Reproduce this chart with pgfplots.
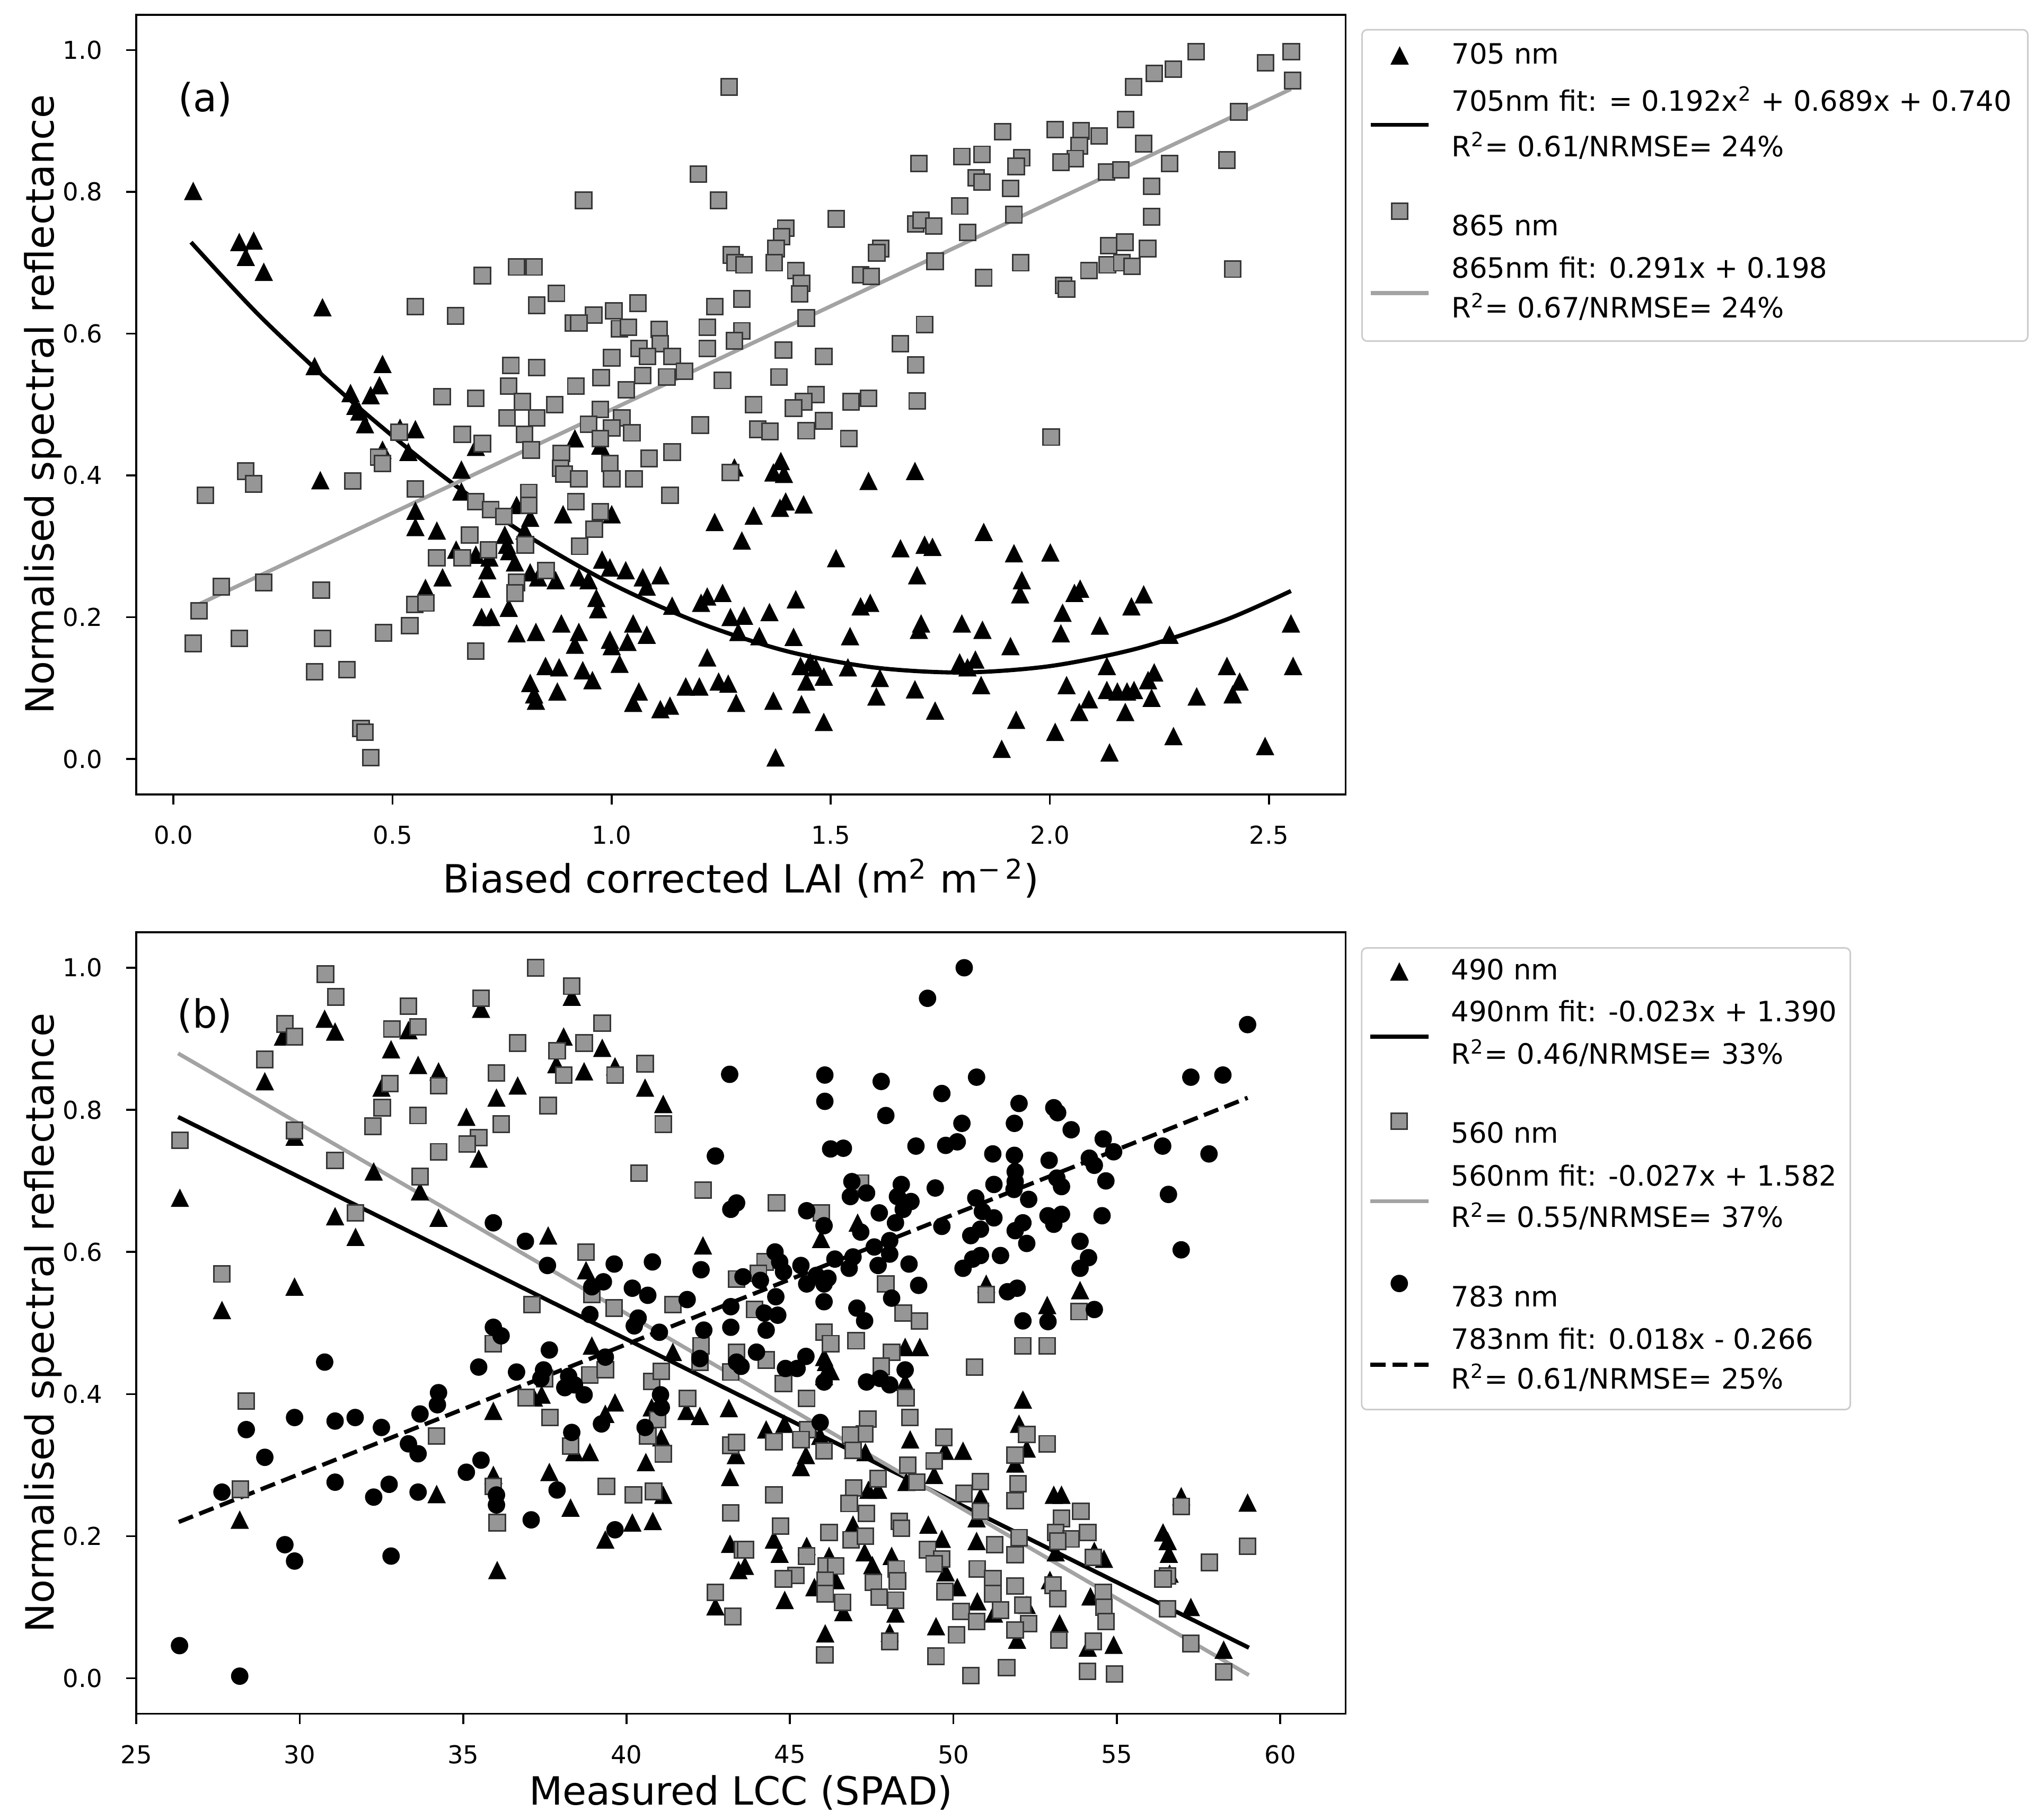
\documentclass[border=0pt]{standalone}
\usepackage{fontspec}
\setmainfont{DejaVu Sans}
\usepackage{pgfplots}
\usepackage{pgfplotstable}
\pgfplotsset{compat=1.18}
\renewcommand{\arraystretch}{0}
\definecolor{sqfill}{RGB}{150,150,150}
\definecolor{sqedge}{RGB}{55,55,55}
\definecolor{fitgray}{RGB}{163,163,163}
\definecolor{legframe}{RGB}{204,204,204}
\pgfdeclareplotmark{mtri}{%
 \pgfpathmoveto{\pgfqpoint{0pt}{\pgfplotmarksize}}%
 \pgfpathlineto{\pgfqpoint{-\pgfplotmarksize}{-\pgfplotmarksize}}%
 \pgfpathlineto{\pgfqpoint{\pgfplotmarksize}{-\pgfplotmarksize}}%
 \pgfpathclose\pgfusepathqfillstroke}

\pgfplotstableread{
x y
0.045 0.801
0.150 0.729
0.183 0.731
0.165 0.708
0.206 0.687
0.340 0.637
0.322 0.554
0.477 0.557
0.470 0.527
0.404 0.516
0.450 0.513
0.415 0.498
0.424 0.490
0.437 0.472
0.552 0.465
0.517 0.467
0.536 0.433
0.477 0.436
0.335 0.393
0.657 0.408
0.657 0.377
0.690 0.440
0.552 0.350
0.552 0.327
0.601 0.322
0.783 0.358
0.814 0.340
0.756 0.316
0.801 0.322
0.889 0.345
1.000 0.345
0.916 0.452
0.974 0.442
1.235 0.334
1.280 0.411
1.297 0.308
0.645 0.295
0.690 0.288
0.721 0.284
0.761 0.302
0.766 0.293
0.779 0.277
0.716 0.266
0.614 0.256
0.575 0.241
0.814 0.263
0.832 0.256
0.872 0.252
0.925 0.256
0.947 0.252
0.978 0.281
0.996 0.270
1.032 0.266
1.071 0.256
1.080 0.243
1.111 0.259
0.965 0.227
0.969 0.211
0.703 0.240
0.765 0.213
0.703 0.200
0.725 0.200
0.783 0.177
0.827 0.179
0.885 0.191
0.925 0.179
0.916 0.161
0.996 0.168
1.000 0.159
1.036 0.165
1.049 0.191
1.080 0.175
1.138 0.216
1.204 0.220
1.218 0.229
1.253 0.234
1.271 0.200
1.302 0.202
1.289 0.179
1.218 0.143
1.018 0.134
0.849 0.131
0.880 0.129
0.934 0.125
0.956 0.111
0.814 0.107
0.823 0.091
0.827 0.082
0.876 0.095
1.062 0.095
1.049 0.079
1.111 0.070
1.133 0.075
1.169 0.102
1.200 0.102
1.244 0.109
1.266 0.106
1.284 0.079
1.386 0.420
1.369 0.404
1.393 0.402
1.692 0.406
1.586 0.392
1.397 0.363
1.384 0.354
1.438 0.359
1.324 0.343
1.849 0.320
1.659 0.297
1.714 0.302
1.732 0.299
1.512 0.283
1.918 0.290
2.001 0.291
1.697 0.259
1.936 0.252
1.932 0.232
1.420 0.225
1.568 0.215
1.590 0.220
2.056 0.234
2.069 0.240
2.214 0.232
2.186 0.215
1.360 0.207
2.029 0.206
1.706 0.191
1.701 0.182
1.799 0.191
1.846 0.182
2.114 0.188
2.025 0.177
1.337 0.173
1.415 0.172
1.544 0.173
1.910 0.159
2.273 0.175
2.550 0.191
1.431 0.131
1.453 0.136
1.466 0.129
1.539 0.129
1.484 0.116
1.444 0.109
1.612 0.114
1.794 0.136
1.830 0.140
1.812 0.129
2.130 0.131
2.404 0.131
2.555 0.131
2.238 0.122
2.224 0.111
2.433 0.109
1.843 0.104
1.692 0.098
2.038 0.104
2.130 0.097
2.154 0.095
2.176 0.095
2.192 0.097
2.232 0.086
2.335 0.088
2.417 0.091
2.089 0.084
1.369 0.082
1.433 0.077
1.604 0.088
2.067 0.066
2.172 0.066
1.738 0.068
1.484 0.052
1.923 0.055
2.012 0.038
2.282 0.032
1.890 0.014
2.136 0.009
2.491 0.018
1.374 0.002
}\tA

\pgfplotstableread{
x y
1.268 0.948
1.198 0.825
1.244 0.788
0.936 0.788
1.273 0.711
1.281 0.700
1.302 0.697
0.783 0.694
0.823 0.694
0.705 0.682
0.874 0.657
0.829 0.640
0.552 0.638
0.644 0.625
1.060 0.643
1.235 0.638
1.297 0.649
0.959 0.626
1.005 0.632
0.912 0.615
0.925 0.615
1.018 0.607
1.038 0.609
1.108 0.606
1.218 0.609
1.297 0.604
1.062 0.579
1.111 0.586
1.082 0.568
1.138 0.568
1.218 0.579
1.280 0.590
1.000 0.566
0.770 0.555
0.829 0.552
1.071 0.541
1.126 0.539
1.166 0.547
0.976 0.538
1.253 0.534
0.765 0.526
0.918 0.526
1.033 0.521
0.613 0.511
0.690 0.509
0.796 0.504
0.870 0.500
0.974 0.493
0.761 0.481
0.829 0.481
1.023 0.481
0.947 0.472
1.000 0.467
1.046 0.460
1.202 0.471
0.515 0.461
0.659 0.458
0.705 0.445
0.801 0.458
0.974 0.452
0.816 0.436
0.885 0.431
1.085 0.424
1.138 0.433
0.468 0.426
0.477 0.417
0.996 0.417
0.883 0.410
0.891 0.402
0.925 0.395
1.000 0.395
1.051 0.395
1.271 0.404
0.165 0.406
0.183 0.388
0.073 0.372
0.409 0.392
0.552 0.381
0.811 0.376
1.133 0.372
0.690 0.363
0.918 0.363
0.724 0.352
0.754 0.342
0.811 0.358
0.974 0.349
0.960 0.324
0.676 0.316
0.719 0.295
0.803 0.302
0.927 0.300
0.601 0.284
0.659 0.284
0.850 0.266
0.783 0.249
0.779 0.234
0.109 0.243
0.206 0.249
0.337 0.238
0.058 0.209
0.551 0.218
0.576 0.220
0.539 0.188
0.479 0.178
0.045 0.163
0.150 0.170
0.340 0.170
0.690 0.152
0.322 0.123
0.396 0.126
0.428 0.043
0.437 0.038
0.450 0.002
2.334 0.998
2.551 0.998
2.492 0.982
2.282 0.973
2.238 0.967
2.191 0.948
2.554 0.957
2.431 0.913
2.173 0.902
1.892 0.885
2.012 0.888
2.071 0.886
2.112 0.879
2.214 0.868
2.067 0.865
2.058 0.847
2.025 0.842
1.799 0.850
1.845 0.853
1.936 0.848
1.923 0.836
1.701 0.840
2.273 0.840
2.404 0.845
2.129 0.828
2.162 0.831
1.832 0.820
1.845 0.814
2.232 0.808
1.910 0.805
1.794 0.780
1.918 0.768
1.512 0.762
1.397 0.749
1.388 0.737
1.375 0.720
1.694 0.755
1.706 0.760
1.735 0.752
1.812 0.743
2.232 0.765
1.614 0.720
1.605 0.714
1.371 0.700
1.420 0.689
1.433 0.671
1.429 0.656
1.738 0.702
1.933 0.700
1.568 0.683
1.592 0.681
1.849 0.679
2.134 0.724
2.171 0.729
2.223 0.720
2.131 0.697
2.164 0.700
2.187 0.695
2.089 0.689
2.031 0.668
2.038 0.663
2.417 0.691
1.444 0.622
1.714 0.613
1.659 0.586
1.392 0.577
1.484 0.568
1.694 0.556
1.382 0.539
1.466 0.514
1.438 0.504
1.415 0.495
1.324 0.500
1.546 0.504
1.586 0.509
1.697 0.505
1.333 0.465
1.361 0.462
1.444 0.463
1.484 0.477
1.541 0.452
2.003 0.454
}\sA

\pgfplotstableread{
x y
30.764 0.928
31.083 0.910
29.488 0.903
33.327 0.912
35.547 0.942
38.323 0.959
32.795 0.885
38.075 0.903
39.256 0.887
33.622 0.863
34.248 0.854
37.851 0.864
38.701 0.854
39.646 0.861
28.933 0.840
32.500 0.831
36.669 0.834
36.020 0.817
40.567 0.831
41.122 0.808
35.099 0.790
29.843 0.762
35.476 0.731
32.264 0.713
33.681 0.685
26.335 0.676
31.083 0.650
34.248 0.648
31.709 0.621
37.602 0.623
42.338 0.609
38.760 0.574
29.843 0.551
27.622 0.518
38.937 0.468
41.417 0.459
37.402 0.399
37.165 0.395
35.925 0.376
39.646 0.388
39.350 0.372
40.768 0.381
41.063 0.339
41.831 0.376
42.244 0.369
43.130 0.380
38.878 0.318
38.406 0.318
40.591 0.304
43.343 0.314
37.638 0.290
35.925 0.286
34.189 0.259
38.287 0.240
41.122 0.258
43.165 0.283
28.165 0.223
40.177 0.219
40.803 0.221
39.350 0.195
43.165 0.189
43.425 0.152
36.043 0.152
42.717 0.101
47.070 0.641
45.948 0.618
53.873 0.546
52.869 0.525
51.003 0.555
48.523 0.466
48.972 0.466
46.046 0.452
46.101 0.445
46.243 0.432
46.042 0.425
48.523 0.417
52.125 0.392
52.007 0.358
52.243 0.323
51.889 0.302
44.826 0.358
44.271 0.350
45.924 0.341
45.487 0.314
45.333 0.297
46.928 0.321
47.306 0.318
48.676 0.336
49.739 0.320
50.294 0.320
49.409 0.286
48.558 0.276
47.400 0.265
47.696 0.265
50.826 0.255
53.070 0.258
53.306 0.258
50.708 0.225
46.928 0.216
49.232 0.216
49.645 0.196
50.708 0.193
44.507 0.195
44.684 0.175
45.511 0.186
46.196 0.172
47.283 0.177
48.109 0.172
47.519 0.159
49.763 0.149
53.129 0.177
54.310 0.179
54.605 0.168
43.621 0.158
46.397 0.138
45.747 0.128
50.117 0.128
52.952 0.138
44.838 0.110
50.731 0.108
52.243 0.103
54.192 0.115
46.633 0.093
48.227 0.091
51.239 0.091
49.468 0.073
51.948 0.054
53.247 0.077
46.078 0.063
48.050 0.064
54.109 0.043
54.901 0.047
56.412 0.205
56.554 0.193
56.590 0.175
56.968 0.256
58.999 0.247
57.263 0.100
58.267 0.040
56.613 0.147
}\tB

\pgfplotstableread{
x y
30.787 0.991
31.106 0.959
37.224 1.000
38.323 0.974
35.547 0.957
33.327 0.946
29.547 0.921
29.843 0.903
32.819 0.914
33.622 0.917
36.669 0.894
39.256 0.922
38.701 0.894
37.874 0.883
38.075 0.849
39.646 0.849
40.567 0.865
36.020 0.852
28.933 0.871
32.760 0.837
34.248 0.834
32.524 0.803
33.622 0.792
32.240 0.777
36.162 0.780
37.602 0.806
41.122 0.780
29.843 0.771
26.335 0.757
35.476 0.761
35.122 0.752
34.248 0.741
31.083 0.729
33.681 0.706
40.378 0.711
42.338 0.687
31.709 0.655
27.622 0.569
38.760 0.600
38.937 0.540
37.106 0.526
39.622 0.521
41.417 0.526
43.366 0.562
35.925 0.471
28.366 0.390
38.878 0.427
39.350 0.434
37.496 0.422
36.929 0.395
37.661 0.367
40.768 0.418
41.063 0.432
42.279 0.468
42.244 0.445
43.189 0.431
43.366 0.459
41.866 0.394
40.945 0.364
40.650 0.341
41.122 0.316
34.189 0.341
38.287 0.327
28.189 0.266
35.925 0.270
36.043 0.219
39.386 0.270
40.212 0.258
40.827 0.263
43.189 0.328
43.366 0.332
43.189 0.233
43.543 0.181
42.717 0.121
43.248 0.087
47.164 0.697
44.590 0.669
45.960 0.655
44.235 0.586
44.035 0.570
47.932 0.555
51.003 0.540
53.838 0.516
48.464 0.514
48.960 0.503
43.916 0.519
46.042 0.487
46.243 0.471
47.023 0.475
44.271 0.448
48.109 0.459
47.790 0.439
44.802 0.415
45.511 0.394
48.546 0.395
48.664 0.367
50.649 0.438
52.125 0.468
52.869 0.468
47.377 0.365
47.283 0.344
46.846 0.342
45.534 0.350
45.333 0.336
44.507 0.333
46.042 0.320
46.928 0.321
49.704 0.339
52.243 0.343
52.869 0.330
51.889 0.314
48.605 0.300
49.409 0.306
47.696 0.281
48.877 0.276
50.826 0.277
51.972 0.274
50.318 0.260
46.952 0.268
44.507 0.258
51.889 0.250
46.810 0.246
47.342 0.232
50.826 0.235
53.306 0.225
53.897 0.235
48.346 0.221
48.405 0.211
44.708 0.214
46.196 0.205
53.129 0.205
53.602 0.196
54.109 0.205
52.007 0.198
53.188 0.193
51.263 0.188
46.869 0.195
47.306 0.200
43.645 0.181
49.208 0.181
51.889 0.174
54.275 0.170
45.511 0.172
49.645 0.168
49.409 0.161
46.101 0.158
46.397 0.158
48.251 0.154
50.731 0.154
57.830 0.163
58.999 0.186
56.968 0.242
56.554 0.144
56.412 0.140
45.180 0.145
44.802 0.140
46.078 0.138
47.554 0.135
48.287 0.137
51.204 0.140
51.889 0.130
53.046 0.131
49.739 0.122
51.204 0.119
53.188 0.112
54.582 0.121
46.078 0.119
47.731 0.114
48.227 0.110
46.609 0.107
50.235 0.094
51.440 0.096
52.125 0.103
50.708 0.080
52.302 0.077
51.889 0.068
54.605 0.100
54.664 0.080
56.554 0.098
50.093 0.061
53.223 0.054
54.275 0.052
48.050 0.052
57.263 0.049
46.066 0.033
49.468 0.031
51.629 0.015
54.098 0.010
54.924 0.006
50.531 0.004
58.267 0.009
}\sB

\pgfplotstableread{
x y
43.154 0.850
42.717 0.735
43.189 0.660
43.366 0.669
35.925 0.641
36.905 0.615
37.579 0.581
39.622 0.583
40.791 0.586
42.279 0.575
39.291 0.558
38.937 0.551
40.177 0.549
40.649 0.539
41.854 0.533
38.878 0.512
43.189 0.523
40.354 0.507
30.764 0.445
35.925 0.494
36.162 0.482
37.638 0.462
35.476 0.438
36.634 0.431
37.461 0.434
39.350 0.452
38.228 0.425
38.110 0.409
38.406 0.413
38.701 0.399
37.378 0.422
34.248 0.402
34.213 0.385
33.681 0.372
29.843 0.367
31.083 0.362
31.697 0.367
32.500 0.353
28.366 0.350
33.327 0.330
33.622 0.316
28.933 0.311
35.547 0.307
35.099 0.290
31.083 0.276
32.736 0.273
32.264 0.255
33.622 0.262
27.622 0.262
36.020 0.258
36.020 0.244
37.874 0.265
37.082 0.223
39.646 0.209
38.323 0.346
39.232 0.358
40.567 0.353
41.039 0.399
41.063 0.381
40.236 0.496
41.004 0.487
42.244 0.450
42.362 0.490
43.189 0.494
43.366 0.445
29.547 0.188
29.843 0.165
32.795 0.172
26.323 0.046
28.165 0.003
50.330 1.000
49.208 0.957
58.999 0.920
46.066 0.849
47.790 0.840
50.708 0.846
57.263 0.846
58.243 0.849
49.645 0.823
46.066 0.812
52.007 0.809
53.070 0.803
53.188 0.796
47.932 0.792
50.259 0.781
51.865 0.781
53.602 0.772
54.582 0.759
46.243 0.745
46.633 0.746
48.853 0.749
49.763 0.750
50.117 0.755
56.401 0.749
57.818 0.738
51.204 0.738
51.865 0.736
52.928 0.729
54.901 0.741
54.157 0.732
54.310 0.722
51.889 0.713
51.889 0.699
53.164 0.704
53.306 0.692
54.664 0.700
51.239 0.695
51.853 0.688
56.578 0.681
46.893 0.699
46.846 0.678
47.342 0.683
48.405 0.695
48.287 0.678
48.700 0.671
49.444 0.690
48.464 0.660
50.684 0.676
52.302 0.674
50.885 0.657
51.239 0.648
52.893 0.651
53.306 0.653
53.070 0.639
54.546 0.651
45.511 0.658
47.731 0.655
46.042 0.637
48.227 0.641
49.645 0.636
50.826 0.632
50.531 0.623
52.125 0.641
51.889 0.630
52.243 0.612
53.873 0.615
56.968 0.603
47.164 0.628
47.578 0.607
48.050 0.616
48.050 0.597
44.542 0.600
44.684 0.586
46.373 0.590
46.928 0.593
54.133 0.592
50.826 0.595
50.590 0.590
51.440 0.595
48.641 0.583
45.334 0.581
47.696 0.581
46.810 0.577
50.294 0.577
53.873 0.577
44.802 0.572
45.806 0.567
46.161 0.563
43.562 0.565
44.094 0.560
45.511 0.555
46.042 0.555
48.936 0.553
48.109 0.535
44.566 0.537
51.653 0.544
51.948 0.549
46.042 0.530
47.046 0.521
54.310 0.519
44.212 0.514
44.625 0.511
47.283 0.503
52.125 0.503
52.893 0.502
44.271 0.490
43.975 0.459
44.861 0.436
45.216 0.436
45.487 0.453
43.503 0.439
46.042 0.417
47.342 0.417
47.755 0.422
48.050 0.413
48.523 0.434
45.924 0.360
}\cB

\pgfplotsset{
  myaxis/.style={
    scale only axis, width=466pt,
    tick pos=left, tick align=outside, major tick length=3.9pt,
    axis line style={line width=0.75pt},
    tick style={black, line width=0.75pt},
    tick label style={font=\fontsize{9.5}{11}\selectfont},
    xticklabel style={inner sep=0pt, yshift=-8pt},
    yticklabel style={inner sep=0pt, xshift=-9pt},
    label style={font=\fontsize{15}{18}\selectfont},
    legend cell align=left,
    legend image code/.code={\draw[sharp corners,mark repeat=2,mark phase=2,##1] plot coordinates {(0pt,0pt) (11.2pt,0pt) (22.4pt,0pt)};},
    legend style={draw=legframe, line width=0.6pt, rounded corners=2pt, fill=white,
      inner xsep=2.5pt, inner ysep=1.8pt, row sep=0pt, column sep=8pt,
      font=\fontsize{10.8}{13}\selectfont, nodes={inner sep=0pt, text depth=}, anchor=north west},
  },
  tri/.style={only marks, mark=mtri, mark size=3.3pt, mark options={draw=black, fill=black, line width=0.3pt}},
  sq/.style={only marks, mark=square*, mark size=3.1pt, mark options={draw=sqedge, fill=sqfill, line width=0.6pt}},
  circ/.style={only marks, mark=*, mark size=3.2pt, mark options={draw=black, fill=black, line width=0.3pt}},
}

\begin{document}
\begin{tikzpicture}
\path[use as bounding box] (0pt,0pt) rectangle (784.1pt,-701.2pt);
\begin{axis}[myaxis, at={(52.5pt,-306.15pt)}, anchor=south west, height=300.5pt,
  xmin=-0.085, xmax=2.675, ymin=-0.05, ymax=1.05,
  xtick={0,0.5,1,1.5,2,2.5}, xticklabels={0.0,0.5,1.0,1.5,2.0,2.5},
  ytick={0,0.2,0.4,0.6,0.8,1}, yticklabels={0.0,0.2,0.4,0.6,0.8,1.0},
  xlabel={Biased corrected LAI (m\textsuperscript{2} m\textsuperscript{−\,2})},
  ylabel={Normalised spectral reflectance},
  xlabel style={at={(axis description cs:0.5,-0.1260)}, anchor=base},
  ylabel style={at={(axis description cs:-0.0681,0.5)}, anchor=base},
  legend style={at={(1.01288,0.9817)}},
]
\addplot[tri] table {\tA};
\addlegendentry{\rule[-5.11pt]{0pt}{16.40pt}705 nm}
\addplot[black, line width=1.6pt, smooth, no marks] coordinates {
(0.04,0.729) (0.2,0.623) (0.4,0.508) (0.6,0.406) (0.8,0.318) (1.0,0.247) (1.2,0.192)
(1.4,0.152) (1.6,0.129) (1.8,0.122) (2.0,0.131) (2.2,0.156) (2.4,0.196) (2.55,0.237)};
\addlegendentry{\begin{tabular}{@{}l@{}}\rule[-7.4pt]{0pt}{20.59pt}705nm fit: = 0.192x\textsuperscript{2} + 0.689x + 0.740\hspace*{3.7pt}\\\rule[-6.11pt]{0pt}{16.31pt}R\textsuperscript{2}= 0.61/NRMSE= 24\%\end{tabular}}
\addplot[sq] table {\sA};
\addlegendentry{\rule[-5.41pt]{0pt}{29.70pt}865 nm}
\addplot[fitgray, line width=1.5pt, no marks] coordinates {(0.04,0.213) (2.55,0.945)};
\addlegendentry{\begin{tabular}{@{}l@{}}\rule[-5.2pt]{0pt}{16.04pt}865nm fit: 0.291x + 0.198\\\rule[-7.16pt]{0pt}{17.36pt}R\textsuperscript{2}= 0.67/NRMSE= 24\%\end{tabular}}
\node[anchor=base, font=\fontsize{15}{18}\selectfont] at (axis description cs:0.0571,0.8757) {(a)};
\end{axis}

\begin{axis}[myaxis, at={(52.5pt,-660.45pt)}, anchor=south west, height=301.2pt,
  xmin=25, xmax=62, ymin=-0.05, ymax=1.05,
  xtick={25,30,35,40,45,50,55,60}, xticklabels={25,30,35,40,45,50,55,60},
  ytick={0,0.2,0.4,0.6,0.8,1}, yticklabels={0.0,0.2,0.4,0.6,0.8,1.0},
  xlabel={Measured LCC (SPAD)},
  ylabel={Normalised spectral reflectance},
  xlabel style={at={(axis description cs:0.5,-0.1164)}, anchor=base},
  ylabel style={at={(axis description cs:-0.0681,0.5)}, anchor=base},
  legend style={at={(1.01256,0.9809)}},
]
\addplot[tri] table {\tB};
\addlegendentry{\rule[-4.36pt]{0pt}{14.70pt}490 nm}
\addplot[black, line width=1.6pt, no marks] coordinates {(26.28,0.790) (59.04,0.043)};
\addlegendentry{\begin{tabular}{@{}l@{}}\rule[-6.25pt]{0pt}{18.04pt}490nm fit: -0.023x + 1.390\hspace*{2.6pt}\\\rule[-7.16pt]{0pt}{17.36pt}R\textsuperscript{2}= 0.46/NRMSE= 33\%\end{tabular}}
\addplot[sq] table {\sB};
\addlegendentry{\rule[-6.51pt]{0pt}{29.80pt}560 nm}
\addplot[fitgray, line width=1.5pt, no marks] coordinates {(26.28,0.8795) (59.04,0.0045)};
\addlegendentry{\begin{tabular}{@{}l@{}}\rule[-5.85pt]{0pt}{15.79pt}560nm fit: -0.027x + 1.582\\\rule[-5.71pt]{0pt}{15.91pt}R\textsuperscript{2}= 0.55/NRMSE= 37\%\end{tabular}}
\addplot[circ] table {\cB};
\addlegendentry{\rule[-7.01pt]{0pt}{31.80pt}783 nm}
\addplot[black, line width=1.6pt, dash pattern=on 5.9pt off 2.6pt, no marks] coordinates {(26.3,0.220) (59.0,0.817)};
\addlegendentry{\begin{tabular}{@{}l@{}}\rule[-5.05pt]{0pt}{14.44pt}783nm fit: 0.018x - 0.266\\\rule[-6.26pt]{0pt}{16.46pt}R\textsuperscript{2}= 0.61/NRMSE= 25\%\end{tabular}}
\node[anchor=base, font=\fontsize{15}{18}\selectfont] at (axis description cs:0.0567,0.8776) {(b)};
\end{axis}
\end{tikzpicture}
\end{document}
